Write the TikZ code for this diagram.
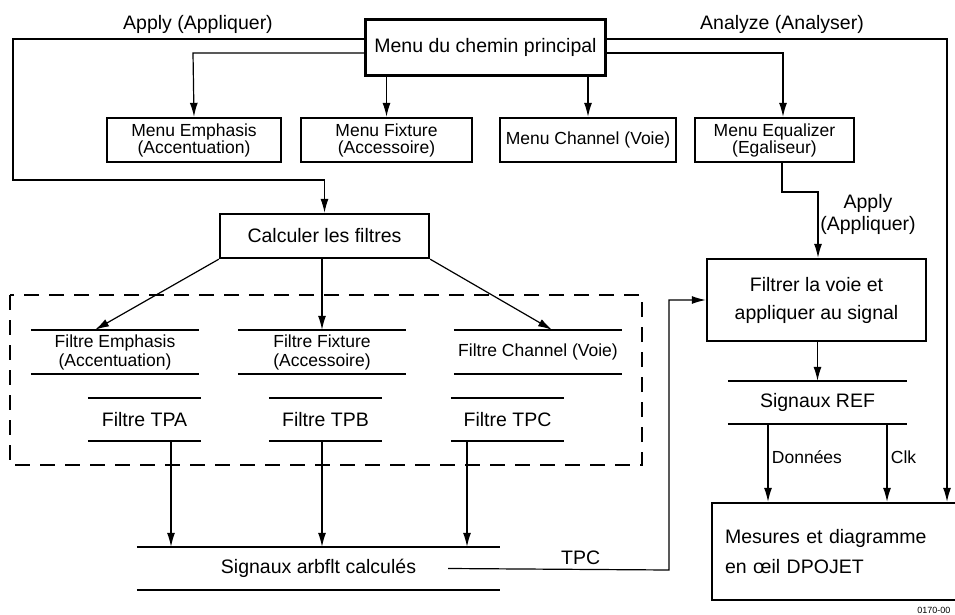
\documentclass[tikz,border=0pt]{standalone}
\usepackage{fontspec}
\setmainfont{Liberation Sans}
\usetikzlibrary{arrows.meta}

\begin{document}
\begin{tikzpicture}[x=1pt, y=-1pt,
    box/.style={draw, line width=2.4pt, inner sep=0pt, align=center},
    menu/.style={box, minimum height=44pt, font=\fontsize{17.5}{17}\selectfont},
    bar/.style={inner sep=0pt, minimum height=43pt, align=center},
    link/.style={line width=1.2pt},
    arr/.style={link, -{Latex[length=14pt,width=8pt]}},
    big/.style={font=\fontsize{19.5}{22}\selectfont},
    small/.style={font=\fontsize{17.5}{19}\selectfont}]

    \useasboundingbox (0,0) rectangle (955,615);

    % Corner points of the connectors
    \coordinate (apL) at (13,39);
    \coordinate (apB) at (13,180);
    \coordinate (emT) at (193,53);
    \coordinate (eqT) at (783,53);
    \coordinate (anR) at (947,39);
    \coordinate (eqA) at (782,192);
    \coordinate (eqB) at (818,192);
    \coordinate (tpcA) at (669,570);

    % Menus
    \node[box, big, minimum width=240pt, minimum height=56pt] (main) at (485.5,47.5) {Menu du chemin principal};
    \node[menu, minimum width=174pt] (emph) at (194,140) {Menu Emphasis\\(Accentuation)};
    \node[menu, minimum width=171pt] (fix) at (386.5,140) {Menu Fixture\\(Accessoire)};
    \node[menu, minimum width=176pt] (chan) at (588,140) {Menu Channel (Voie)};
    \node[menu, minimum width=159pt] (eq) at (774.5,140) {Menu Equalizer\\(Egaliseur)};

    % Processing boxes
    \node[box, big, minimum width=209pt, minimum height=44pt] (calc) at (324.5,236) {Calculer les filtres};
    \node[box, font=\fontsize{19.5}{28}\selectfont, minimum width=219pt, minimum height=82pt] (filt) at (816.5,300) {Filtrer la voie et\\appliquer au signal};
    \node[box, font=\fontsize{19.5}{30}\selectfont, minimum width=262pt, minimum height=97pt,
          text width=236pt, inner xsep=13pt, align=left] (dp) at (843,551.5) {Mesures et diagramme\\en \oe il DPOJET};

    % Filters
    \draw[link, dash pattern=on 15pt off 10pt] (10,295) rectangle (642,465);
    \node[bar, small, minimum width=168pt, minimum height=44pt] (fe) at (115,352) {Filtre Emphasis\\(Accentuation)};
    \node[bar, small, minimum width=168pt, minimum height=44pt] (ff) at (322,352) {Filtre Fixture\\(Accessoire)};
    \node[bar, small, minimum width=168pt, minimum height=44pt] (fc) at (538,352) {Filtre Channel (Voie)};
    \node[bar, big, minimum width=113pt] (ta) at (144.5,419.5) {Filtre TPA};
    \node[bar, big, minimum width=113pt] (tb) at (325.5,419.5) {Filtre TPB};
    \node[bar, big, minimum width=113pt] (tc) at (507.5,419.5) {Filtre TPC};

    % Signals
    \node[bar, big, minimum width=363pt] (sa) at (318.5,568.5) {Signaux arbflt calcul\'es};
    \node[bar, big, minimum width=179pt] (sr) at (817.5,402.5) {Signaux REF};

    \foreach \n in {fe,ff,fc,ta,tb,tc,sa,sr}
        \draw[line width=2.4pt] (\n.north west) -- (\n.north east) (\n.south west) -- (\n.south east);

    % From the main menu
    \draw[arr] (main.west |- apL) -- (apL) -- (apB) -- (calc.north |- apB) -- (calc.north);
    \draw[arr] (main.west |- emT) -- (emT) -- (emph.north);
    \draw[arr] (fix.north |- main.south) -- (fix.north);
    \draw[arr] (chan.north |- main.south) -- (chan.north);
    \draw[arr] (main.east |- eqT) -- (eqT) -- (eqT |- eq.north);
    \draw[arr] (main.east |- anR) -- (anR) -- (anR |- dp.north);
    \draw[arr] (eqA |- eq.south) -- (eqA) -- (eqB) -- (eqB |- filt.north);

    \node[big] (lapl) at (198,24) {Apply (Appliquer)};
    \node[big] (lana) at (782,24) {Analyze (Analyser)};
    \node[big, align=center, font=\fontsize{19.5}{22}\selectfont] (lap2) at (868,214) {Apply\\(Appliquer)};

    % Filter calculation
    \draw[arr] (calc.south west) -- ([xshift=-20pt]fe.north);
    \draw[arr] (ff.north |- calc.south) -- (ff.north);
    \draw[arr] (calc.south east) -- ([xshift=14pt]fc.north);

    \draw[arr] ([xshift=26.5pt]ta.south) -- ([xshift=26.5pt]ta.south |- sa.north);
    \draw[arr] ([xshift=-3.5pt]tb.south) -- ([xshift=-3.5pt]tb.south |- sa.north);
    \draw[arr] ([xshift=-40.5pt]tc.south) -- ([xshift=-40.5pt]tc.south |- sa.north);

    % TPC back to the channel filter
    \draw[arr] ([xshift=-52pt]sa.east) -- node[pos=0.6, above=1pt, big] {TPC} (tpcA) -- (tpcA |- filt.west) -- (filt.west);

    % REF signals
    \draw[arr] (sr.north |- filt.south) -- (sr.north);
    \draw[arr] ([xshift=-49.5pt]sr.south) -- node[right, pos=0.42, font=\fontsize{17.5}{18}\selectfont] {Donn\'ees} ([xshift=-49.5pt]sr.south |- dp.north);
    \draw[arr] ([xshift=69.5pt]sr.south) -- node[right, pos=0.42, font=\fontsize{17.5}{18}\selectfont] {Clk} ([xshift=69.5pt]sr.south |- dp.north);

    \node[anchor=east, font=\fontsize{9}{9}\selectfont] (ref) at (954,610) {0170-00};
\end{tikzpicture}
\end{document}
